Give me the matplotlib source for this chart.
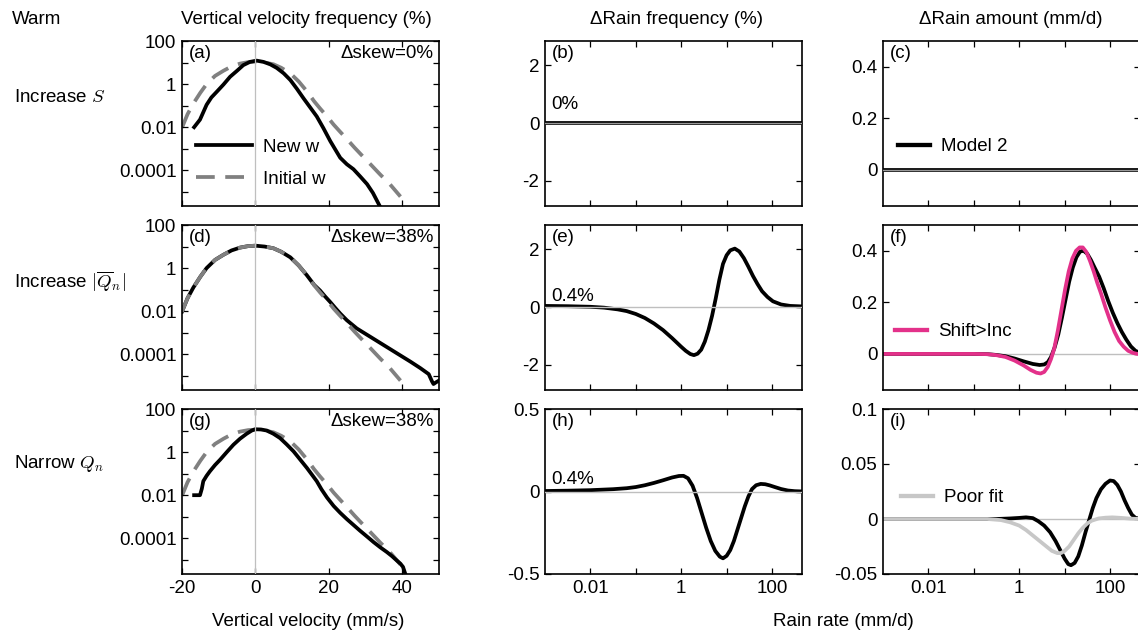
import numpy as np
import matplotlib
matplotlib.use('Agg')
import matplotlib.pyplot as plt
from matplotlib.transforms import blended_transform_factory, ScaledTranslation

plt.rcParams['font.family'] = ['Liberation Sans', 'DejaVu Sans']
plt.rcParams['mathtext.fontset'] = 'cm'
plt.rcParams['font.size'] = 13.5

# ---------------- data: vertical velocity PDFs (log10 of frequency in %) ----------------
w_init = [-20, -18.5, -16.9, -15, -13.3, -11, -8.7, -6.5, -4.2, -2, 0, 2.5, 4.9, 7, 9.5,
          11.8, 14, 16, 17.6, 19.5, 21.3, 23, 24.9, 27, 29.5, 31.5, 34, 36.5, 39, 39.5]
logf_init = [-2.02, -1.4, -0.9, -0.4, 0.0, 0.38, 0.62, 0.82, 0.95, 1.02, 1.04, 1.0, 0.92,
             0.76, 0.5, 0.12, -0.33, -0.8, -1.13, -1.5, -1.88, -2.2, -2.55, -2.95, -3.4,
             -3.75, -4.2, -4.62, -5.12, -5.22]

w_a = [-16.7, -15.1, -13.3, -12, -10.5, -8.7, -6.9, -5, -3.3, -1.5, 0.3, 2.2, 4, 5.8, 7.7,
       9.5, 11.3, 13.1, 14.9, 16.7, 18.5, 20.4, 21.8, 23.1, 24.9, 26.7, 28.5, 30.4, 32,
       33.1, 33.8]
logf_a = [-2.0, -1.65, -0.96, -0.62, -0.35, -0.02, 0.34, 0.62, 0.88, 1.03, 1.09, 1.03, 0.92,
          0.75, 0.5, 0.19, -0.22, -0.66, -1.08, -1.5, -2.04, -2.65, -3.05, -3.42, -3.72,
          -3.95, -4.28, -4.64, -5.05, -5.41, -5.64]

w_d = [-20, -18.5, -16.9, -15, -13.3, -11, -8.7, -6.5, -4.2, -2, 0, 2.5, 4.9, 7, 9.5, 11.8,
       14, 16, 17.6, 19, 20.4, 21.8, 23.1, 24.9, 27.6, 31.3, 34.9, 38.5, 42.2, 44.9, 47.2,
       48.1, 48.5, 49.2, 50]
logf_d = [-2.02, -1.4, -0.9, -0.4, 0.0, 0.38, 0.62, 0.82, 0.95, 1.02, 1.04, 1.0, 0.92, 0.76,
          0.5, 0.12, -0.33, -0.78, -1.04, -1.32, -1.58, -1.86, -2.11, -2.42, -2.8, -3.19,
          -3.57, -3.95, -4.34, -4.64, -4.92, -5.26, -5.38, -5.3, -5.22]

w_g = [-16.7, -15.1, -14.6, -14.2, -13.3, -12.4, -11, -9.6, -7.8, -6, -4.2, -2.4, -1, -0.1,
       1.5, 3.1, 4.9, 6.7, 8.5, 10.4, 12.2, 14, 15.4, 16.7, 18, 19.5, 21.3, 23.1, 24.9, 26.7,
       28.5, 30.4, 32.2, 34, 35.8, 37.2, 38.5, 39.5, 40.2, 40.8]
logf_g = [-2.0, -2.0, -1.7, -1.35, -1.1, -0.89, -0.6, -0.35, 0.0, 0.34, 0.62, 0.85, 1.0,
          1.06, 1.05, 1.0, 0.85, 0.65, 0.36, 0.03, -0.35, -0.73, -1.05, -1.35, -1.73, -2.11,
          -2.5, -2.82, -3.11, -3.38, -3.65, -3.92, -4.18, -4.42, -4.64, -4.83, -5.03, -5.18,
          -5.33, -5.64]

# ---------------- data: rain rate responses (x given as log10 of mm/d) ----------------
lr_flat = [-3.0, 2.7]
dfreq_b = [0.0, 0.0]
damt_c = [0.0, 0.0]

lr_e = [-3.0, -2.5, -2.0, -1.7, -1.4, -1.2, -1.0, -0.8, -0.6, -0.4, -0.2, 0.0, 0.1, 0.2,
        0.28, 0.36, 0.44, 0.52, 0.6, 0.68, 0.76, 0.84, 0.92, 1.0, 1.08, 1.18, 1.28, 1.38,
        1.48, 1.58, 1.68, 1.78, 1.9, 2.02, 2.2, 2.4, 2.7]
dfreq_e = [0.04, 0.03, 0.01, -0.02, -0.08, -0.14, -0.24, -0.38, -0.57, -0.8, -1.08, -1.38,
           -1.52, -1.63, -1.67, -1.62, -1.48, -1.2, -0.8, -0.3, 0.3, 0.95, 1.5, 1.8, 1.97,
           2.03, 1.93, 1.7, 1.4, 1.08, 0.8, 0.55, 0.35, 0.2, 0.09, 0.04, 0.02]

lr_h = [-3.0, -2.5, -2.0, -1.5, -1.2, -1.0, -0.8, -0.6, -0.4, -0.2, -0.05, 0.05, 0.15,
        0.25, 0.35, 0.45, 0.55, 0.65, 0.75, 0.85, 0.92, 1.0, 1.08, 1.16, 1.24, 1.32, 1.4,
        1.48, 1.56, 1.65, 1.75, 1.85, 1.95, 2.05, 2.2, 2.35, 2.5, 2.7]
dfreq_h = [0.003, 0.005, 0.008, 0.014, 0.02, 0.027, 0.038, 0.052, 0.068, 0.085, 0.094,
           0.095, 0.08, 0.035, -0.04, -0.13, -0.22, -0.3, -0.36, -0.395, -0.405, -0.39,
           -0.355, -0.3, -0.23, -0.16, -0.09, -0.03, 0.015, 0.038, 0.046, 0.044, 0.037,
           0.028, 0.015, 0.006, 0.002, 0.0]

lr_f = [-3.0, -1.0, -0.7, -0.5, -0.3, -0.1, 0.1, 0.3, 0.45, 0.55, 0.63, 0.7, 0.78, 0.86,
        0.94, 1.02, 1.1, 1.18, 1.26, 1.34, 1.42, 1.5, 1.58, 1.66, 1.76, 1.86, 1.96, 2.06,
        2.16, 2.26, 2.36, 2.46, 2.56, 2.66, 2.7]
damt_f = [0.0, 0.0, -0.001, -0.004, -0.009, -0.018, -0.029, -0.039, -0.043, -0.041, -0.032,
          -0.012, 0.025, 0.075, 0.14, 0.21, 0.28, 0.335, 0.375, 0.397, 0.4, 0.388, 0.364,
          0.335, 0.3, 0.255, 0.205, 0.16, 0.12, 0.085, 0.055, 0.029, 0.012, 0.004, 0.003]
lr_f2 = [-3.0, -1.0, -0.7, -0.5, -0.3, -0.1, 0.1, 0.25, 0.38, 0.47, 0.55, 0.63, 0.7, 0.77,
         0.85, 0.93, 1.01, 1.09, 1.17, 1.25, 1.33, 1.4, 1.48, 1.56, 1.64, 1.72, 1.8, 1.9,
         2.0, 2.1, 2.2, 2.3, 2.4, 2.5, 2.6, 2.7]
damt_f2 = [0.0, 0.0, -0.001, -0.005, -0.012, -0.026, -0.045, -0.062, -0.073, -0.076, -0.07,
           -0.05, -0.02, 0.02, 0.09, 0.17, 0.25, 0.32, 0.37, 0.4, 0.413, 0.413, 0.395, 0.36,
           0.32, 0.275, 0.235, 0.18, 0.13, 0.085, 0.05, 0.028, 0.012, 0.004, 0.0, 0.0]

lr_i = [-3.0, -0.5, -0.2, 0.0, 0.15, 0.3, 0.42, 0.55, 0.68, 0.8, 0.9, 1.0, 1.08, 1.14, 1.22,
        1.3, 1.38, 1.46, 1.54, 1.62, 1.7, 1.8, 1.9, 2.0, 2.08, 2.16, 2.24, 2.32, 2.4, 2.48,
        2.56, 2.7]
damt_i = [0.0, 0.0, 0.0005, 0.001, 0.0015, 0.0008, -0.002, -0.006, -0.012, -0.02, -0.028,
          -0.036, -0.041, -0.042, -0.04, -0.034, -0.024, -0.012, -0.001, 0.01, 0.019, 0.027,
          0.032, 0.035, 0.0345, 0.031, 0.025, 0.017, 0.01, 0.004, 0.001, 0.0]
lr_i2 = [-3.0, -0.7, -0.4, -0.2, 0.0, 0.15, 0.3, 0.45, 0.6, 0.72, 0.84, 0.92, 1.0, 1.1, 1.2,
         1.3, 1.4, 1.5, 1.6, 1.75, 1.9, 2.05, 2.25, 2.45, 2.7]
damt_i2 = [0.0, 0.0, -0.001, -0.003, -0.006, -0.01, -0.015, -0.02, -0.025, -0.029, -0.031,
           -0.031, -0.029, -0.025, -0.019, -0.013, -0.008, -0.004, -0.0015, 0.0005, 0.0012,
           0.0015, 0.001, 0.0003, 0.0]

col_titles = ['Vertical velocity frequency (%)', '\u0394Rain frequency (%)',
              '\u0394Rain amount (mm/d)']
row_titles = ['Increase $S$', 'Increase $|\\overline{Q}_n|$', 'Narrow $Q_n$']
skew_labels = ['\u0394skew=0%', '\u0394skew=38%', '\u0394skew=38%']
freq_labels = ['0%', '0.4%', '0.4%']
panel_letters = ['(a)', '(b)', '(c)', '(d)', '(e)', '(f)', '(g)', '(h)', '(i)']

# ---------------- figure ----------------
W, H = 1138, 636
fig = plt.figure(figsize=(W / 100, H / 100), dpi=100)

lefts = [182, 545, 883]
tops = [41, 225, 409]
aw, ah = 257, 165

pink = '#e3318a'
lw = 2.7
dash = (5, 2.8)


def make_ax(r, c):
    ax = fig.add_axes([lefts[c] / W, 1 - (tops[r] + ah) / H, aw / W, ah / H])
    for s in ax.spines.values():
        s.set_linewidth(1.2)
    ax.tick_params(direction='in', top=True, right=True, length=4, width=0.9,
                   labelsize=13.5, pad=4)
    ax.tick_params(which='minor', length=0)
    return ax


axes = [[make_ax(r, c) for c in range(3)] for r in range(3)]

wi = np.array(w_init)
fi = 10 ** np.array(logf_init)
new_curves = [(w_a, logf_a), (w_d, logf_d), (w_g, logf_g)]

yt = [1e2, 1e1, 1e0, 1e-1, 1e-2, 1e-3, 1e-4, 1e-5]
ytl = ['100', '', '1', '', '0.01', '', '0.0001', '']

for r in range(3):
    ax = axes[r][0]
    ax.set_yscale('log')
    ax.axvline(0, color='0.75', lw=0.9, zorder=3)
    xw, lf = new_curves[r]
    ax.plot(xw, 10 ** np.array(lf), color='k', lw=lw, zorder=2)
    ax.plot(wi, fi, color='0.5', lw=lw, dashes=dash, zorder=2.5 if r == 1 else 1)
    ax.set_xlim(-20, 50)
    ax.set_ylim(2.2e-6, 100)
    ax.set_yticks(yt)
    ax.set_yticklabels(ytl)
    ax.set_xticks([-20, 0, 20, 40])
    ax.yaxis.set_minor_locator(matplotlib.ticker.NullLocator())
    if r < 2:
        ax.set_xticklabels([])
    else:
        ax.set_xticklabels(['-20', '0', '20', '40'])
    ax.text(0.98, 0.925, skew_labels[r], transform=ax.transAxes, ha='right', va='center')
    if r == 0:
        h1, = ax.plot([], [], color='k', lw=lw)
        h2, = ax.plot([], [], color='0.5', lw=lw, dashes=dash)
        ax.legend(handles=[h1, h2], labels=['New w', 'Initial w'], loc='center left',
                  bbox_to_anchor=(0.054, 0.258), frameon=False, handlelength=3.0,
                  handletextpad=0.6, labelspacing=0.8, borderaxespad=0, borderpad=0,
                  fontsize=13.5)

# column 2
freq_data = [(lr_flat, dfreq_b), (lr_e, dfreq_e), (lr_h, dfreq_h)]
label_dy = [19, 11, 12]
for r in range(3):
    ax = axes[r][1]
    ax.set_xscale('log')
    lx, v = freq_data[r]
    ax.plot(10 ** np.array(lx), v, color='k', lw=lw, zorder=2)
    ax.axhline(0, color='0.75' if r else '0.6', lw=1.0, zorder=3)
    ax.set_xlim(1e-3, 10 ** 2.66)
    if r < 2:
        ax.set_ylim(-2.88, 2.85)
        ax.set_yticks([-2, 0, 2])
        ax.set_yticklabels(['-2', '0', '2'])
    else:
        ax.set_ylim(-0.5, 0.5)
        ax.set_yticks([-0.5, 0, 0.5])
        ax.set_yticklabels(['-0.5', '0', '0.5'])
    tr = blended_transform_factory(ax.transAxes, ax.transData) + \
        ScaledTranslation(0, label_dy[r] / 100, fig.dpi_scale_trans)
    ax.text(0.025, 0.0, freq_labels[r], transform=tr, ha='left', va='center')

# column 3
amt_lims = [(-0.14, 0.5), (-0.14, 0.5), (-0.05, 0.1)]
leg_pos = [(0.058, 0.358), (0.047, 0.352), (0.07, 0.462)]
for r in range(3):
    ax = axes[r][2]
    ax.set_xscale('log')
    ax.set_xlim(1e-3, 10 ** 2.66)
    ax.set_ylim(*amt_lims[r])
    if r == 0:
        ax.plot(10 ** np.array(lr_flat), damt_c, color='k', lw=lw, zorder=2)
        ax.axhline(0, color='0.6', lw=1.0, zorder=3)
        lab, lcol = 'Model 2', 'k'
    elif r == 1:
        ax.plot(10 ** np.array(lr_f), damt_f, color='k', lw=lw, zorder=2)
        ax.plot(10 ** np.array(lr_f2), damt_f2, color=pink, lw=lw, zorder=2.5)
        ax.axhline(0, color='0.75', lw=1.0, zorder=1)
        lab, lcol = 'Shift>Inc', pink
    else:
        ax.plot(10 ** np.array(lr_i), damt_i, color='k', lw=lw, zorder=2)
        ax.plot(10 ** np.array(lr_i2), damt_i2, color='0.78', lw=lw, zorder=2.5)
        ax.axhline(0, color='0.75', lw=1.0, zorder=1)
        lab, lcol = 'Poor fit', '0.78'
    if r < 2:
        ax.set_yticks([0, 0.2, 0.4])
        ax.set_yticklabels(['0', '0.2', '0.4'])
    else:
        ax.set_yticks([-0.05, 0, 0.05, 0.1])
        ax.set_yticklabels(['-0.05', '0', '0.05', '0.1'])
    hh, = ax.plot([], [], color=lcol, lw=lw + 0.4)
    ax.legend(handles=[hh], labels=[lab], loc='center left', bbox_to_anchor=leg_pos[r],
              frameon=False, handlelength=1.7, handletextpad=0.6, borderaxespad=0,
              borderpad=0, fontsize=13.5)

for r in range(3):
    for c in (1, 2):
        ax = axes[r][c]
        ax.set_xticks([1e-2, 1e-1, 1e0, 1e1, 1e2])
        ax.xaxis.set_minor_locator(matplotlib.ticker.NullLocator())
        if r < 2:
            ax.set_xticklabels([])
        else:
            ax.set_xticklabels(['0.01', '', '1', '', '100'])

for r in range(3):
    for c in range(3):
        axes[r][c].text(0.025, 0.925, panel_letters[3 * r + c],
                        transform=axes[r][c].transAxes, ha='left', va='center')

# titles and labels
fig.text(12 / W, 1 - 20 / H, 'Warm', ha='left', va='center')
for c, cx in enumerate([306, 676, 1011]):
    fig.text(cx / W, 1 - 20 / H, col_titles[c], ha='center', va='center')
for r, cy in enumerate([97, 282, 463]):
    fig.text(14 / W, 1 - cy / H, row_titles[r], ha='left', va='center')
fig.text(308 / W, 1 - 621 / H, 'Vertical velocity (mm/s)', ha='center', va='center')
fig.text(843 / W, 1 - 621 / H, 'Rain rate (mm/d)', ha='center', va='center')

fig.savefig('out.png', dpi=100)
